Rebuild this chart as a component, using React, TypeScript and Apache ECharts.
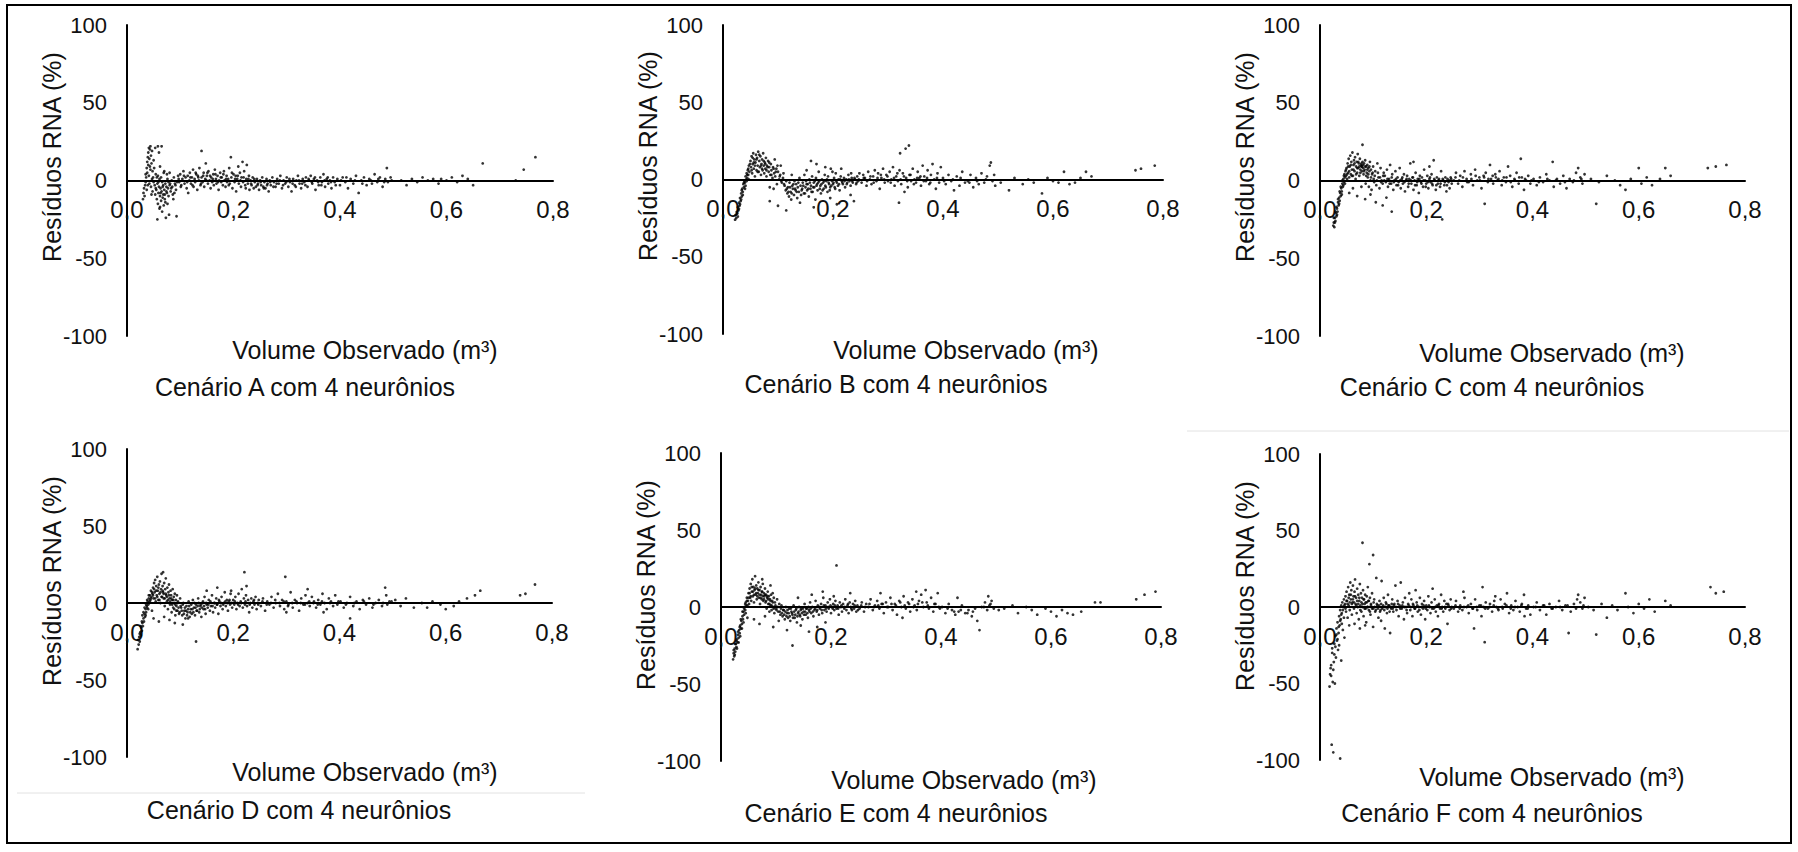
import React, { useEffect, useRef } from "react";
import * as echarts from "echarts";

type P = [number, number];

// Volume observado (m³), resíduo (%)
const cenarioA: P[] = [
  [0.030,-12],[0.031,-8],[0.032,-5],[0.033,-10],[0.034,-3],[0.035,-1],[0.035,4],[0.036,2],[0.037,8],[0.037,-6],[0.038,12],[0.038,5],[0.039,15],[0.040,18],[0.040,10],[0.041,21],[0.041,3],[0.042,-2],[0.042,14],[0.043,20],[0.044,7],[0.044,22],[0.045,16],[0.045,-4],[0.046,11],[0.047,1],[0.047,19],[0.048,-7],[0.048,6],[0.049,2],[0.050,-1],[0.050,13],
  [0.052,-3],[0.053,-9],[0.054,4],[0.055,-6],[0.056,-12],[0.057,-2],[0.058,-15],[0.058,3],[0.059,-8],[0.060,-4],[0.061,-18],[0.061,1],[0.062,-10],[0.063,-5],[0.064,-13],[0.064,2],[0.065,-7],[0.066,-20],[0.066,-1],[0.067,-11],[0.068,-3],[0.069,-16],[0.069,5],[0.070,-6],[0.071,-9],[0.072,-2],[0.072,-14],[0.073,-24],[0.074,-4],[0.075,-8],[0.076,1],[0.077,-5],[0.078,-10],[0.079,-22],[0.080,-3],[0.082,-7],[0.084,0],[0.085,-4],[0.087,-12],[0.088,2],[0.090,-2],[0.092,-6],[0.093,-23],
  [0.053,21],[0.058,22],[0.060,18],[0.065,22],[0.062,9],[0.070,6],[0.075,4],[0.080,5],[0.057,-25],
  [0.096,3],[0.098,-1],[0.100,4],[0.102,-3],[0.104,1],[0.106,6],[0.108,-2],[0.110,2],[0.112,-5],[0.114,3],[0.115,-8],[0.117,0],[0.118,5],[0.120,-2],[0.122,2],[0.124,7],[0.125,-4],[0.127,1],[0.128,-1],[0.130,4],[0.132,-6],[0.133,3],[0.135,0],[0.136,8],[0.138,-3],[0.140,19],[0.140,2],[0.142,-1],[0.144,5],[0.145,-4],[0.147,1],[0.148,11],[0.150,3],[0.152,-2],[0.153,6],[0.155,0],[0.157,-5],[0.158,2],[0.160,-1],[0.162,4],[0.163,-3],[0.165,7],[0.167,1],[0.168,-2],[0.170,3],[0.172,-6],[0.173,0],[0.175,5],[0.177,-1],[0.178,2],[0.180,-3],[0.182,6],[0.183,0],[0.185,-4],[0.187,3],[0.188,-1],[0.190,1],[0.192,8],[0.193,-2],[0.195,15],[0.196,2],[0.198,-5],[0.200,4],[0.202,-1],[0.204,3],[0.205,-7],[0.207,1],[0.209,9],[0.210,-2],[0.212,5],[0.214,-4],[0.215,2],[0.217,12],[0.218,-1],[0.220,6],[0.222,-3],[0.224,1],[0.225,10],[0.227,-2],[0.229,3],[0.230,-6],
  [0.232,0],[0.234,-3],[0.236,2],[0.238,-5],[0.240,-1],[0.242,-4],[0.244,1],[0.246,-2],[0.248,-6],[0.250,0],[0.252,-3],[0.254,2],[0.256,-4],[0.258,-1],[0.260,-5],[0.262,1],[0.264,-2],[0.266,-7],[0.268,0],[0.270,-3],[0.273,2],[0.276,-1],[0.279,-4],[0.282,1],[0.285,-2],[0.288,3],[0.291,-5],[0.294,0],[0.297,-2],[0.300,2],[0.303,-4],[0.306,-1],[0.309,-7],[0.312,1],[0.315,-3],[0.318,0],[0.321,3],[0.324,-2],[0.327,-5],[0.330,1],[0.333,-1],[0.336,2],[0.339,-4],[0.342,0],[0.345,3],[0.348,-2],[0.351,1],[0.354,-6],[0.357,0],[0.360,-3],[0.363,2],[0.366,-1],[0.369,4],[0.372,-4],[0.375,1],[0.378,-2],[0.381,0],[0.384,-5],[0.387,2],[0.390,-1],
  [0.395,1],[0.400,-3],[0.405,2],[0.410,-1],[0.415,-5],[0.420,1],[0.425,-2],[0.430,3],[0.435,-8],[0.440,0],[0.445,2],[0.450,-3],[0.455,1],[0.460,-2],[0.465,4],[0.470,-1],[0.475,2],[0.480,-4],[0.485,1],[0.488,8],[0.490,-1],[0.495,2],
  [0.515,0],[0.525,-3],[0.535,1],[0.545,-1],[0.555,2],[0.565,0],[0.575,1],[0.585,-2],[0.590,1],[0.600,0],[0.610,2],[0.620,-1],[0.630,3],[0.640,1],[0.650,-3],
  [0.668,11],[0.730,0],[0.745,7],[0.767,15],
];
const cenarioAExtra: P[] = [
  [0.043,9],[0.046,-9],[0.039,-3],[0.051,8],[0.054,-5],[0.056,2],[0.059,-1],[0.063,-8],[0.067,-4],[0.071,-12],[0.074,-7],[0.078,-1],[0.083,-5],[0.086,-9],[0.091,-3],[0.097,1],[0.101,-4],[0.107,3],[0.113,-1],[0.119,2],[0.123,-3],[0.129,5],[0.134,2],[0.139,-2],[0.143,3],[0.149,0],[0.151,5],[0.156,3],[0.161,1],[0.166,4],[0.171,-1],[0.176,2],[0.181,4],[0.186,1],[0.191,-3],[0.197,5],[0.203,1],[0.208,3],[0.213,0],[0.219,2],[0.223,-5],[0.228,1],[0.233,-2],[0.239,1],[0.245,-3],[0.251,-1],[0.257,-5],[0.263,-3],[0.269,-1],[0.275,-4],[0.281,-2],[0.287,0],[0.293,-3],[0.299,-1],[0.305,1],[0.311,-2],[0.317,-4],[0.323,0],[0.329,-2],[0.335,-3],[0.341,1],[0.347,-1],[0.353,2],[0.359,-1],[0.365,-3],[0.371,0],[0.377,2],[0.383,-1],[0.392,-3],[0.402,0],[0.412,2],[0.428,0],[0.442,-2],[0.458,0],[0.472,1],[0.483,-1],[0.497,0],[0.062,-17],[0.068,-9],[0.076,-15],[0.081,-2],[0.089,-8],[0.094,-1],
];

const cenarioB: P[] = [
  [0.022,-26],[0.023,-23],[0.024,-25],[0.025,-21],[0.026,-22],[0.027,-18],[0.028,-20],[0.029,-15],[0.030,-17],[0.031,-12],[0.032,-14],[0.033,-9],[0.034,-11],[0.035,-6],[0.036,-8],[0.037,-3],[0.038,-5],[0.039,-1],[0.040,-2],[0.041,2],[0.042,0],[0.043,4],[0.044,1],[0.045,6],[0.046,3],[0.047,9],[0.048,5],
  [0.050,12],[0.051,8],[0.052,15],[0.053,4],[0.054,10],[0.055,17],[0.056,7],[0.057,13],[0.058,2],[0.059,11],[0.060,16],[0.061,6],[0.062,14],[0.063,9],[0.064,18],[0.065,5],[0.066,12],[0.067,8],[0.068,15],[0.069,3],[0.070,10],[0.071,13],[0.072,6],[0.073,17],[0.074,9],[0.075,4],[0.076,11],[0.077,7],[0.078,14],[0.079,2],[0.080,9],[0.082,12],[0.083,5],[0.084,8],[0.085,-5],[0.086,3],[0.087,10],[0.088,6],[0.090,1],[0.091,8],[0.092,-6],[0.093,4],[0.094,13],[0.095,2],[0.097,7],[0.098,-3],[0.100,5],[0.102,0],[0.104,3],[0.105,9],[0.107,-2],[0.109,1],[0.110,4],
  [0.112,-4],[0.114,-7],[0.115,-1],[0.117,-9],[0.118,-5],[0.120,-11],[0.121,-2],[0.123,-8],[0.124,-13],[0.126,-4],[0.127,-6],[0.129,-10],[0.130,-1],[0.132,-7],[0.133,-3],[0.135,-12],[0.136,-5],[0.138,-8],[0.139,1],[0.141,-4],[0.142,-10],[0.144,-6],[0.145,-2],[0.147,-9],[0.148,3],[0.150,-5],[0.151,-1],[0.153,-7],[0.154,-3],[0.156,-11],[0.157,0],[0.159,-6],[0.160,-4],[0.162,2],[0.163,-8],[0.165,-2],[0.166,-5],[0.168,-13],[0.169,1],[0.171,-3],[0.172,-7],[0.174,5],[0.175,-1],[0.177,-4],[0.178,-9],[0.180,0],[0.182,-2],[0.183,-6],[0.185,3],[0.186,-4],[0.188,-1],[0.190,-8],[0.191,2],[0.193,-3],[0.195,-5],[0.196,7],[0.198,-1],[0.200,-3],[0.202,1],[0.204,-6],[0.205,4],[0.207,-2],[0.209,-4],[0.210,0],[0.212,-7],[0.214,2],[0.216,-1],[0.218,-3],[0.220,1],[0.222,-5],[0.224,0],[0.226,-2],[0.228,3],[0.230,-1],[0.232,-4],[0.234,1],[0.236,-2],[0.238,-14],[0.240,0],[0.242,-3],[0.244,2],[0.246,-1],[0.248,4],
  [0.085,-14],[0.100,-17],[0.115,-20],[0.140,-15],[0.165,-18],[0.195,-12],[0.207,-16],[0.232,-10],
  [0.125,3],[0.152,6],[0.170,10],[0.186,8],[0.199,5],[0.215,7],[0.233,4],[0.160,12],
  [0.252,-2],[0.255,3],[0.258,1],[0.261,-4],[0.264,5],[0.267,0],[0.270,-3],[0.273,2],[0.276,6],[0.279,-1],[0.282,4],[0.285,-6],[0.288,1],[0.291,7],[0.294,-2],[0.297,3],[0.300,-1],[0.303,5],[0.306,0],[0.309,8],[0.312,-4],[0.315,2],[0.318,-1],[0.321,6],[0.322,17],[0.324,-3],[0.327,4],[0.330,-8],[0.332,20],[0.333,1],[0.336,-5],[0.338,22],[0.339,3],[0.342,-1],[0.345,7],[0.348,0],[0.351,-2],[0.354,5],[0.357,1],[0.360,-4],[0.363,9],[0.366,2],[0.369,-1],[0.372,6],[0.375,-3],[0.378,3],[0.381,10],[0.384,0],[0.387,-6],[0.390,4],[0.393,-2],[0.396,8],[0.320,-15],
  [0.400,1],[0.405,-3],[0.410,3],[0.415,-1],[0.420,-7],[0.425,2],[0.430,-4],[0.435,5],[0.440,-2],[0.445,-1],[0.450,3],[0.455,-5],[0.460,1],[0.465,-3],[0.470,4],[0.475,-2],[0.480,2],[0.485,9],[0.487,11],[0.490,-1],[0.493,3],[0.495,-4],
  [0.505,-2],[0.520,-7],[0.530,1],[0.545,-3],[0.555,0],[0.565,-2],[0.580,-9],[0.590,1],[0.600,-1],[0.610,-2],[0.620,5],[0.630,-3],[0.640,-2],[0.650,1],[0.660,5],[0.670,2],
  [0.750,6],[0.760,7],[0.785,9],
];
const cenarioBExtra: P[] = [
  [0.027,-24],[0.029,-19],[0.031,-16],[0.033,-13],[0.034,-7],[0.036,-10],[0.038,-2],[0.040,-6],[0.041,-4],[0.043,-1],[0.044,3],[0.046,7],[0.047,0],[0.049,10],[0.052,6],[0.054,14],[0.056,11],[0.058,9],[0.061,13],[0.063,5],[0.066,16],[0.069,9],[0.071,7],[0.074,12],[0.077,10],[0.079,6],[0.081,8],[0.084,11],[0.088,3],[0.092,7],[0.096,5],[0.099,9],[0.103,2],[0.106,-1],[0.111,-3],[0.116,-6],[0.119,-8],[0.122,-5],[0.125,-9],[0.128,-3],[0.131,-6],[0.134,-8],[0.137,-2],[0.143,-7],[0.146,-4],[0.149,-9],[0.152,-3],[0.155,-6],[0.158,-2],[0.161,-8],[0.164,-5],[0.167,-1],[0.170,-4],[0.173,-2],[0.176,-6],[0.179,-3],[0.181,-7],[0.184,-1],[0.187,-5],[0.189,0],[0.192,-2],[0.194,-7],[0.197,-4],[0.201,-2],[0.203,-5],[0.206,-1],[0.211,-3],[0.213,0],[0.217,-2],[0.221,-1],[0.225,-3],[0.229,0],[0.235,-1],[0.239,1],[0.243,-2],[0.247,0],[0.256,1],[0.262,-1],[0.268,2],[0.274,-2],[0.281,1],[0.287,3],[0.293,0],[0.299,2],[0.305,-2],[0.311,1],[0.317,4],[0.323,0],[0.329,2],[0.335,-1],[0.341,3],[0.347,-3],[0.353,1],[0.359,2],[0.365,-1],[0.371,1],[0.377,-2],[0.389,1],[0.402,-1],[0.418,0],[0.432,1],[0.448,-2],[0.462,-1],[0.478,0],
];

const cenarioC: P[] = [
  [0.025,-29],[0.026,-27],[0.027,-30],[0.028,-24],[0.029,-26],[0.030,-21],[0.031,-23],[0.032,-18],[0.033,-20],[0.034,-14],[0.035,-16],[0.036,-11],[0.037,-13],[0.038,-8],[0.039,-10],[0.040,-5],[0.041,-7],[0.042,-2],[0.043,-4],[0.044,1],[0.045,-1],[0.046,4],[0.047,2],[0.048,6],[0.049,3],
  [0.050,8],[0.051,1],[0.052,11],[0.053,5],[0.054,14],[0.055,2],[0.056,9],[0.057,16],[0.058,4],[0.059,12],[0.060,7],[0.061,18],[0.062,3],[0.063,10],[0.064,13],[0.065,6],[0.066,15],[0.067,1],[0.068,9],[0.069,12],[0.070,5],[0.071,17],[0.072,8],[0.073,11],[0.074,3],[0.075,14],[0.076,7],[0.077,10],[0.078,9],[0.079,6],[0.080,23],[0.080,12],[0.081,8],[0.082,4],[0.083,11],[0.084,7],[0.085,13],[0.086,-2],[0.087,9],[0.088,5],[0.089,10],[0.090,2],[0.091,8],[0.092,-4],[0.093,6],[0.094,12],[0.095,0],[0.096,7],[0.097,-6],[0.098,4],[0.100,9],[0.102,-1],[0.104,6],[0.106,-3],[0.108,11],[0.110,2],[0.112,-5],[0.114,8],[0.116,0],[0.118,-2],[0.120,5],
  [0.055,-8],[0.062,-5],[0.070,-10],[0.078,-4],[0.085,-12],[0.095,-9],[0.105,-14],[0.118,-16],[0.125,-11],[0.135,-20],
  [0.122,3],[0.124,-1],[0.126,7],[0.128,-4],[0.130,1],[0.132,10],[0.134,-2],[0.136,4],[0.138,-6],[0.140,0],[0.142,6],[0.144,-3],[0.146,2],[0.148,-1],[0.150,8],[0.152,-5],[0.154,1],[0.156,-2],[0.158,4],[0.160,-7],[0.162,0],[0.164,3],[0.166,-4],[0.168,1],[0.170,11],[0.172,-2],[0.174,2],[0.176,-6],[0.178,0],[0.180,5],[0.182,-3],[0.184,1],[0.186,-8],[0.188,3],[0.190,-1],[0.192,2],[0.194,-4],[0.196,7],[0.198,0],[0.200,-2],[0.202,3],[0.204,-5],[0.206,1],[0.208,-1],[0.210,4],[0.212,-3],[0.214,13],[0.216,0],[0.218,-6],[0.220,2],[0.222,-2],[0.224,1],[0.226,-4],[0.228,6],[0.230,-25],[0.232,0],[0.234,-3],[0.236,2],[0.238,-7],[0.240,1],[0.242,-1],[0.244,-5],[0.246,2],[0.248,-2],[0.176,12],[0.206,9],
  [0.252,0],[0.256,5],[0.260,-2],[0.264,3],[0.268,-4],[0.272,6],[0.276,1],[0.280,-1],[0.284,4],[0.288,-3],[0.292,7],[0.296,0],[0.300,2],[0.304,-5],[0.308,3],[0.310,-15],[0.312,5],[0.316,-1],[0.320,10],[0.322,1],[0.326,-2],[0.330,4],[0.334,0],[0.338,6],[0.342,-3],[0.346,2],[0.350,-1],[0.354,9],[0.358,3],[0.362,-4],[0.366,1],[0.370,5],[0.374,-2],[0.378,14],[0.380,2],[0.384,-6],[0.388,0],[0.392,3],[0.396,-2],
  [0.402,1],[0.408,-3],[0.414,2],[0.420,-1],[0.426,4],[0.432,0],[0.438,12],[0.440,-4],[0.446,1],[0.452,-2],[0.458,3],[0.464,-5],[0.470,1],[0.476,-1],[0.482,5],[0.486,8],[0.490,2],[0.494,-2],[0.498,4],[0.520,-15],
  [0.510,1],[0.525,-1],[0.540,3],[0.555,0],[0.565,-3],[0.575,-6],[0.585,1],[0.600,8],[0.605,-2],[0.615,2],[0.625,-3],[0.640,1],[0.650,8],[0.660,3],
  [0.730,8],[0.745,9],[0.765,10],
];
const cenarioCExtra: P[] = [
  [0.026,-24],[0.028,-27],[0.029,-20],[0.031,-17],[0.032,-22],[0.034,-12],[0.036,-15],[0.037,-7],[0.039,-4],[0.041,-9],[0.042,0],[0.044,-3],[0.045,3],[0.047,-2],[0.049,7],[0.051,4],[0.053,9],[0.055,6],[0.058,10],[0.060,3],[0.063,7],[0.065,11],[0.068,4],[0.070,8],[0.072,12],[0.074,9],[0.076,5],[0.078,11],[0.079,9],[0.081,10],[0.083,6],[0.085,9],[0.087,3],[0.089,7],[0.091,4],[0.093,9],[0.096,2],[0.099,5],[0.101,1],[0.103,3],[0.107,0],[0.109,5],[0.113,2],[0.115,-1],[0.119,3],[0.121,0],[0.127,1],[0.131,-2],[0.135,2],[0.139,-1],[0.143,1],[0.147,-3],[0.151,0],[0.155,2],[0.159,-1],[0.163,1],[0.167,-2],[0.171,0],[0.175,2],[0.179,-3],[0.183,-1],[0.187,1],[0.191,-2],[0.195,0],[0.199,-4],[0.203,-1],[0.207,2],[0.211,-2],[0.215,1],[0.219,-3],[0.223,0],[0.227,-2],[0.231,1],[0.235,-1],[0.239,-3],[0.243,0],[0.247,1],[0.255,2],[0.262,0],[0.269,2],[0.277,-1],[0.285,1],[0.293,3],[0.301,0],[0.309,2],[0.317,1],[0.325,3],[0.331,2],[0.336,1],[0.343,0],[0.351,2],[0.359,-1],[0.367,0],[0.375,2],[0.386,1],[0.398,0],[0.412,-1],[0.428,1],[0.444,0],[0.461,-1],[0.478,0],[0.492,1],
];

const cenarioD: P[] = [
  [0.020,-30],[0.022,-27],[0.023,-22],[0.024,-25],[0.025,-19],[0.026,-21],[0.027,-16],[0.028,-18],[0.029,-13],[0.030,-15],[0.031,-10],[0.032,-12],[0.033,-7],[0.034,-9],[0.035,-4],[0.036,-6],[0.037,-2],[0.038,-3],[0.039,1],[0.040,-1],[0.041,3],[0.042,0],[0.043,5],[0.044,2],[0.045,8],[0.046,4],[0.047,-5],[0.048,6],
  [0.049,10],[0.050,3],[0.051,13],[0.052,7],[0.053,15],[0.054,1],[0.055,11],[0.056,5],[0.057,17],[0.058,8],[0.059,2],[0.060,12],[0.061,6],[0.062,14],[0.063,0],[0.064,9],[0.065,19],[0.066,4],[0.067,11],[0.068,20],[0.068,7],[0.069,3],[0.070,13],[0.071,-2],[0.072,9],[0.073,16],[0.074,5],[0.075,1],[0.076,10],[0.077,-4],[0.078,7],[0.079,12],[0.080,3],[0.081,-1],[0.082,8],[0.083,5],[0.084,-6],[0.085,2],[0.086,9],[0.087,-3],[0.088,4],[0.089,0],[0.090,6],[0.091,-8],[0.092,2],[0.093,-2],[0.094,5],[0.095,-5],[0.096,1],[0.098,-7],[0.100,3],
  [0.050,-10],[0.060,-12],[0.070,-9],[0.080,-11],[0.090,-13],[0.105,-14],[0.130,-25],[0.115,-10],
  [0.102,-3],[0.104,-8],[0.106,0],[0.108,-5],[0.110,-10],[0.112,-2],[0.114,-6],[0.116,1],[0.118,-9],[0.120,-4],[0.122,-7],[0.124,2],[0.126,-3],[0.128,-8],[0.130,-1],[0.132,-5],[0.134,3],[0.136,-6],[0.138,-2],[0.140,-9],[0.142,0],[0.144,-4],[0.146,4],[0.148,-7],[0.150,-1],[0.152,-3],[0.154,2],[0.156,-5],[0.158,-2],[0.160,5],[0.162,-6],[0.164,0],[0.166,-3],[0.168,3],[0.170,-1],[0.172,-7],[0.174,1],[0.176,-2],[0.178,4],[0.180,-4],[0.182,0],[0.184,7],[0.186,-2],[0.188,2],[0.190,-5],[0.192,1],[0.194,-1],[0.196,8],[0.198,-3],[0.200,2],[0.202,-1],[0.204,4],[0.206,-4],[0.208,0],[0.210,6],[0.212,-2],[0.214,1],[0.216,9],[0.218,-3],[0.220,3],[0.221,20],[0.222,-1],[0.224,5],[0.226,-2],[0.228,2],[0.230,-6],[0.232,0],[0.234,3],[0.236,-3],[0.238,1],[0.240,-1],[0.242,4],[0.244,-4],[0.246,0],[0.248,2],
  [0.150,8],[0.170,10],[0.195,6],[0.225,11],
  [0.252,-2],[0.256,3],[0.260,-5],[0.264,1],[0.268,-1],[0.272,4],[0.276,-3],[0.280,0],[0.284,6],[0.288,-2],[0.292,2],[0.296,-4],[0.298,17],[0.300,1],[0.304,-1],[0.308,7],[0.312,-3],[0.316,2],[0.320,0],[0.324,-5],[0.328,3],[0.332,-1],[0.336,5],[0.340,0],[0.344,-2],[0.348,4],[0.352,1],[0.356,-3],[0.360,2],[0.364,-1],[0.368,6],[0.372,0],[0.376,-4],[0.380,3],[0.384,1],[0.388,-2],[0.392,5],[0.396,-1],[0.300,-6],[0.340,9],[0.370,-6],
  [0.402,1],[0.408,-3],[0.414,0],[0.420,4],[0.426,-2],[0.432,1],[0.438,-4],[0.444,2],[0.450,-1],[0.456,3],[0.462,-3],[0.468,0],[0.474,2],[0.480,-2],[0.486,10],[0.488,5],[0.490,-1],[0.494,1],[0.420,-10],
  [0.505,2],[0.515,-2],[0.525,3],[0.540,-3],[0.555,0],[0.565,-3],[0.575,1],[0.590,-1],[0.600,-4],[0.615,-2],[0.625,1],[0.640,3],[0.655,5],[0.665,8],
  [0.740,5],[0.750,6],[0.768,12],
];
const cenarioDExtra: P[] = [
  [0.021,-24],[0.024,-20],[0.026,-15],[0.028,-12],[0.029,-8],[0.031,-6],[0.033,-3],[0.035,-8],[0.036,-1],[0.038,2],[0.040,-4],[0.041,5],[0.043,1],[0.045,3],[0.047,7],[0.049,5],[0.051,9],[0.053,3],[0.055,8],[0.057,4],[0.059,10],[0.061,2],[0.063,7],[0.065,4],[0.067,8],[0.069,6],[0.071,3],[0.073,6],[0.075,4],[0.077,2],[0.079,5],[0.081,1],[0.083,3],[0.085,-1],[0.087,2],[0.089,-4],[0.091,-1],[0.093,-5],[0.095,0],[0.097,-3],[0.099,-6],[0.101,-2],[0.103,-5],[0.105,-1],[0.107,-7],[0.109,-3],[0.111,-5],[0.113,-8],[0.115,-4],[0.117,-2],[0.119,-6],[0.121,-1],[0.123,-4],[0.125,-6],[0.127,0],[0.129,-3],[0.131,-5],[0.133,-2],[0.135,0],[0.137,-4],[0.139,-1],[0.141,-3],[0.143,1],[0.145,-2],[0.147,-4],[0.149,0],[0.153,-1],[0.157,1],[0.161,-2],[0.165,0],[0.169,-1],[0.173,2],[0.177,0],[0.181,-1],[0.185,1],[0.189,0],[0.193,2],[0.197,0],[0.203,1],[0.209,-1],[0.215,0],[0.223,1],[0.231,-1],[0.239,2],[0.247,-1],[0.255,1],[0.263,-1],[0.271,0],[0.279,2],[0.287,0],[0.295,1],[0.303,-2],[0.311,0],[0.319,1],[0.327,0],[0.335,-1],[0.343,1],[0.351,0],[0.359,-1],[0.367,1],[0.382,0],[0.398,1],[0.412,-1],[0.428,0],[0.446,1],[0.464,-1],[0.482,0],[0.498,1],
];

const cenarioE: P[] = [
  [0.022,-34],[0.023,-30],[0.024,-32],[0.025,-27],[0.026,-29],[0.027,-24],[0.028,-26],[0.029,-21],[0.030,-23],[0.031,-18],[0.032,-20],[0.033,-15],[0.034,-17],[0.035,-12],[0.036,-14],[0.037,-9],[0.038,-11],[0.039,-6],[0.040,-8],[0.041,-3],[0.042,-5],[0.043,0],[0.044,-2],[0.045,3],[0.046,1],[0.047,6],[0.048,-7],[0.049,4],
  [0.050,9],[0.051,2],[0.052,12],[0.053,6],[0.054,15],[0.055,4],[0.056,10],[0.057,18],[0.058,7],[0.059,13],[0.060,3],[0.061,11],[0.062,20],[0.063,8],[0.064,14],[0.065,5],[0.066,12],[0.067,9],[0.068,16],[0.069,6],[0.070,11],[0.071,2],[0.072,13],[0.073,8],[0.074,5],[0.075,10],[0.076,15],[0.077,4],[0.078,9],[0.079,7],[0.080,12],[0.081,3],[0.082,8],[0.083,-1],[0.084,6],[0.085,10],[0.086,2],[0.087,7],[0.088,-3],[0.089,5],[0.090,1],[0.091,8],[0.092,-2],[0.093,4],[0.094,9],[0.095,0],[0.096,6],[0.097,-4],[0.098,3],[0.100,-1],[0.102,5],[0.104,-3],[0.106,2],[0.108,-5],[0.110,1],[0.090,14],[0.075,18],
  [0.060,-8],[0.070,-11],[0.080,-6],[0.095,-13],[0.105,-9],[0.120,-15],[0.130,-25],[0.145,-12],[0.160,-16],[0.175,-13],[0.190,-10],
  [0.112,-6],[0.114,-2],[0.116,-8],[0.118,0],[0.120,-4],[0.122,-7],[0.124,-1],[0.126,-9],[0.128,-3],[0.130,-5],[0.132,1],[0.134,-7],[0.136,-2],[0.138,-10],[0.140,-4],[0.142,0],[0.144,-6],[0.146,-1],[0.148,-8],[0.150,-3],[0.152,2],[0.154,-5],[0.156,-1],[0.158,-7],[0.160,-2],[0.162,3],[0.164,-4],[0.166,0],[0.168,-6],[0.170,-2],[0.172,4],[0.174,-3],[0.176,1],[0.178,-5],[0.180,-1],[0.182,2],[0.184,-4],[0.186,6],[0.188,-2],[0.190,1],[0.192,-3],[0.194,3],[0.196,-1],[0.198,5],[0.200,-4],[0.202,0],[0.204,2],[0.206,-2],[0.208,4],[0.210,27],[0.210,-1],[0.212,1],[0.214,-5],[0.216,3],[0.218,0],[0.220,-3],[0.222,2],[0.224,-1],[0.226,5],[0.228,-2],[0.230,1],[0.232,-4],[0.234,3],[0.236,0],[0.238,-2],[0.240,2],[0.242,-1],[0.244,4],[0.246,-3],[0.248,1],
  [0.140,6],[0.165,8],[0.185,10],[0.205,7],[0.235,9],
  [0.252,-1],[0.256,3],[0.260,-3],[0.264,2],[0.268,0],[0.272,5],[0.276,-2],[0.280,1],[0.284,4],[0.288,-1],[0.292,2],[0.296,-4],[0.300,3],[0.304,0],[0.308,6],[0.312,-2],[0.316,2],[0.320,-5],[0.324,4],[0.328,0],[0.332,7],[0.336,-1],[0.340,3],[0.344,-3],[0.348,5],[0.352,1],[0.356,-2],[0.360,4],[0.364,8],[0.368,0],[0.372,11],[0.374,3],[0.378,-1],[0.382,6],[0.386,-3],[0.390,2],[0.394,9],[0.398,-1],[0.290,9],[0.330,-7],[0.355,10],
  [0.402,0],[0.408,-4],[0.414,2],[0.420,-2],[0.426,-5],[0.432,-3],[0.438,1],[0.444,-4],[0.450,-2],[0.456,-6],[0.462,-1],[0.466,-9],[0.470,-15],[0.474,0],[0.480,3],[0.484,-2],[0.486,7],[0.488,1],[0.492,4],[0.496,-1],[0.430,6],
  [0.505,-2],[0.515,-1],[0.530,1],[0.540,-4],[0.555,0],[0.565,-2],[0.575,-5],[0.590,-1],[0.600,-3],[0.610,-6],[0.620,-2],[0.630,-4],[0.640,-5],[0.655,-3],
  [0.680,3],[0.690,3],[0.755,5],[0.770,8],[0.790,10],
];
const cenarioEExtra: P[] = [
  [0.023,-28],[0.025,-31],[0.026,-24],[0.028,-22],[0.029,-27],[0.031,-16],[0.032,-23],[0.034,-13],[0.035,-19],[0.036,-8],[0.038,-14],[0.039,-3],[0.041,-10],[0.042,-1],[0.044,2],[0.045,-4],[0.047,4],[0.048,1],[0.050,6],[0.052,9],[0.054,7],[0.056,13],[0.058,10],[0.060,8],[0.062,12],[0.064,9],[0.066,7],[0.068,11],[0.070,8],[0.072,6],[0.074,10],[0.076,7],[0.078,5],[0.080,8],[0.082,4],[0.084,7],[0.086,5],[0.088,2],[0.090,4],[0.092,1],[0.094,3],[0.096,-1],[0.099,1],[0.101,-2],[0.103,0],[0.107,-3],[0.109,-1],[0.111,-4],[0.113,-2],[0.115,-5],[0.117,-3],[0.119,-6],[0.121,-2],[0.123,-4],[0.125,-6],[0.127,-1],[0.129,-4],[0.131,-7],[0.133,-3],[0.135,-5],[0.137,-1],[0.139,-6],[0.141,-3],[0.143,-5],[0.145,-2],[0.147,-4],[0.149,-1],[0.151,-5],[0.153,-3],[0.155,-1],[0.157,-4],[0.159,0],[0.161,-3],[0.163,-1],[0.167,-3],[0.171,-1],[0.175,-2],[0.179,0],[0.183,-2],[0.187,1],[0.191,-1],[0.195,0],[0.199,1],[0.203,-1],[0.207,1],[0.213,-1],[0.219,1],[0.225,0],[0.231,2],[0.237,-1],[0.243,1],[0.249,-2],[0.255,1],[0.262,0],[0.270,2],[0.278,0],[0.286,1],[0.294,2],[0.302,0],[0.310,2],[0.318,1],[0.326,3],[0.334,1],[0.342,2],[0.350,0],[0.358,2],[0.366,3],[0.376,1],[0.388,2],[0.396,0],[0.412,-1],[0.424,-3],[0.436,-2],[0.448,-4],[0.458,-3],[0.478,0],[0.490,2],
];

const cenarioF: P[] = [
  [0.018,-52],[0.020,-40],[0.021,-45],[0.022,-90],[0.023,-30],[0.024,-49],[0.025,-95],[0.026,-36],[0.027,-24],[0.028,-50],[0.029,-19],[0.030,-33],[0.031,-14],[0.032,-22],[0.033,-10],[0.034,-28],[0.035,-17],[0.036,-6],[0.037,-12],[0.038,-99],[0.038,-2],[0.039,-8],[0.040,-35],[0.040,1],[0.041,-4],[0.042,3],[0.043,-15],[0.044,0],[0.045,5],[0.046,-20],[0.047,2],[0.048,7],[0.049,-3],
  [0.050,10],[0.051,4],[0.052,-7],[0.053,13],[0.054,1],[0.055,8],[0.056,-2],[0.057,16],[0.058,5],[0.059,11],[0.060,-5],[0.061,3],[0.062,14],[0.063,7],[0.064,-1],[0.065,10],[0.066,18],[0.067,2],[0.068,6],[0.069,-4],[0.070,12],[0.071,0],[0.072,8],[0.073,-8],[0.074,4],[0.075,15],[0.076,1],[0.077,9],[0.078,-3],[0.079,6],[0.080,42],[0.080,2],[0.081,11],[0.082,-6],[0.083,5],[0.084,-1],[0.085,8],[0.086,3],[0.087,-10],[0.088,7],[0.089,0],[0.090,13],[0.091,4],[0.092,-2],[0.093,28],[0.094,6],[0.095,-5],[0.096,2],[0.098,9],[0.100,34],[0.100,-1],[0.102,5],[0.104,-3],[0.106,19],[0.108,1],[0.110,-7],[0.112,4],[0.114,-2],[0.116,17],[0.118,0],[0.120,6],[0.122,-14],[0.124,3],[0.126,-4],[0.128,8],[0.130,1],[0.132,-17],[0.134,-1],[0.136,5],[0.138,-3],[0.140,2],
  [0.055,-12],[0.065,-11],[0.075,-14],[0.085,-12],[0.100,-13],[0.115,-9],
  [0.142,14],[0.144,-2],[0.146,4],[0.148,-6],[0.150,1],[0.152,16],[0.154,-1],[0.156,3],[0.158,-8],[0.160,6],[0.162,0],[0.164,-4],[0.166,2],[0.168,9],[0.170,-2],[0.172,5],[0.174,-6],[0.176,1],[0.178,-1],[0.180,11],[0.182,3],[0.184,-3],[0.186,0],[0.188,6],[0.190,-5],[0.192,2],[0.194,-1],[0.196,4],[0.198,-8],[0.200,1],[0.202,-2],[0.204,7],[0.206,0],[0.208,-4],[0.210,3],[0.212,12],[0.214,-1],[0.216,5],[0.218,-3],[0.220,1],[0.222,-6],[0.224,2],[0.226,-1],[0.228,8],[0.230,0],[0.232,-3],[0.234,4],[0.236,-1],[0.238,2],[0.240,-11],[0.242,1],[0.244,-2],[0.246,5],[0.248,0],
  [0.252,-1],[0.256,4],[0.260,-3],[0.264,1],[0.268,-2],[0.272,6],[0.276,0],[0.280,-4],[0.284,2],[0.288,-1],[0.290,-14],[0.292,5],[0.296,-2],[0.300,1],[0.304,-6],[0.306,13],[0.308,0],[0.310,-23],[0.312,3],[0.316,-1],[0.320,2],[0.324,-3],[0.328,4],[0.332,0],[0.336,-2],[0.340,5],[0.344,-1],[0.348,2],[0.352,9],[0.356,-4],[0.360,1],[0.364,-2],[0.368,4],[0.372,0],[0.376,-3],[0.380,2],[0.384,8],[0.388,-1],[0.392,1],[0.396,-5],[0.270,10],[0.330,7],[0.385,-6],
  [0.402,0],[0.408,3],[0.414,-2],[0.420,1],[0.426,-5],[0.432,2],[0.438,-1],[0.444,0],[0.450,4],[0.456,-2],[0.462,1],[0.468,-17],[0.472,-3],[0.478,2],[0.484,5],[0.486,8],[0.490,3],[0.494,-1],[0.498,6],
  [0.505,0],[0.515,-2],[0.520,-18],[0.530,2],[0.540,-7],[0.550,1],[0.560,-2],[0.575,9],[0.580,0],[0.590,-4],[0.600,2],[0.610,-1],[0.620,5],[0.630,-3],[0.650,4],[0.660,1],
  [0.735,13],[0.745,9],[0.760,10],
];
const cenarioFExtra: P[] = [
  [0.019,-44],[0.021,-38],[0.023,-27],[0.025,-41],[0.027,-31],[0.029,-26],[0.031,-18],[0.033,-21],[0.035,-13],[0.036,-25],[0.038,-9],[0.040,-5],[0.041,-11],[0.043,-2],[0.045,-7],[0.046,1],[0.048,-1],[0.050,4],[0.052,2],[0.054,6],[0.056,3],[0.058,8],[0.060,2],[0.062,5],[0.064,3],[0.066,7],[0.068,1],[0.070,4],[0.072,2],[0.074,6],[0.076,-2],[0.078,3],[0.080,0],[0.082,5],[0.084,2],[0.086,-1],[0.088,3],[0.090,0],[0.092,4],[0.094,-3],[0.096,1],[0.098,-1],[0.101,3],[0.103,0],[0.105,-2],[0.107,2],[0.109,-1],[0.111,1],[0.113,-3],[0.115,2],[0.117,-1],[0.119,1],[0.121,-2],[0.123,0],[0.125,2],[0.127,-1],[0.129,1],[0.131,-3],[0.133,0],[0.135,2],[0.137,-1],[0.139,1],[0.143,0],[0.147,2],[0.151,-1],[0.155,1],[0.159,0],[0.163,-2],[0.167,1],[0.171,0],[0.175,2],[0.179,-1],[0.183,1],[0.187,-2],[0.191,0],[0.195,1],[0.199,-1],[0.205,1],[0.211,-1],[0.217,0],[0.223,1],[0.229,-1],[0.235,0],[0.241,2],[0.247,-1],[0.255,1],[0.263,-1],[0.271,0],[0.279,1],[0.287,-1],[0.295,0],[0.303,1],[0.311,-1],[0.319,0],[0.327,1],[0.335,-1],[0.343,0],[0.351,1],[0.359,-1],[0.367,0],[0.379,1],[0.391,-1],[0.406,0],[0.422,1],[0.436,-1],[0.452,0],[0.466,1],[0.482,-1],[0.496,1],
];

const panelData: P[][] = [
  [...cenarioA, ...cenarioAExtra],
  [...cenarioB, ...cenarioBExtra],
  [...cenarioC, ...cenarioCExtra],
  [...cenarioD, ...cenarioDExtra],
  [...cenarioE, ...cenarioEExtra],
  [...cenarioF, ...cenarioFExtra],
];
const panelCaptions = [
  "Cenário A com 4 neurônios",
  "Cenário B com 4 neurônios",
  "Cenário C com 4 neurônios",
  "Cenário D com 4 neurônios",
  "Cenário E com 4 neurônios",
  "Cenário F com 4 neurônios",
];
const yAxisTitle = "Resíduos RNA (%)";
const xAxisTitle = "Volume Observado (m³)";
const xRange = [0, 0.8];
const xStep = 0.2;
const yRange = [-100, 100];
const yStep = 50;

// positions (pixels)
const panels = [
  { left: 127, top: 25, width: 426, height: 311, yt: [52, 157], xt: [365, 350], ct: [305, 387] },
  { left: 723, top: 25, width: 440, height: 309, yt: [648, 156], xt: [966, 350], ct: [896, 384] },
  { left: 1320, top: 25, width: 425, height: 311, yt: [1245, 157], xt: [1552, 353], ct: [1492, 387] },
  { left: 127, top: 449, width: 425, height: 308, yt: [52, 581], xt: [365, 772], ct: [299, 810] },
  { left: 721, top: 453, width: 440, height: 308, yt: [646, 585], xt: [964, 780], ct: [896, 813] },
  { left: 1320, top: 454, width: 425, height: 306, yt: [1245, 586], xt: [1552, 777], ct: [1492, 813] },
];

const FONT = "'Liberation Sans', Arial, sans-serif";

export default function App() {
  const ref = useRef<HTMLDivElement>(null);
  useEffect(() => {
    document.body.style.margin = "0";
    if (!ref.current) return;
    const chart = echarts.init(ref.current, undefined, { renderer: "svg" });
    const fmtX = (v: number) => v.toFixed(1).replace(".", ",");
    const graphic: any[] = [
      { type: "rect", shape: { x: 7, y: 5, width: 1784, height: 838 }, style: { fill: "none", stroke: "#000", lineWidth: 2 }, silent: true },
      { type: "line", shape: { x1: 1187, y1: 431, x2: 1789, y2: 431 }, style: { stroke: "#e2e2e2", lineWidth: 1 }, silent: true },
      { type: "line", shape: { x1: 17, y1: 793, x2: 585, y2: 793 }, style: { stroke: "#e2e2e2", lineWidth: 1 }, silent: true },
    ];
    panels.forEach((p, i) => {
      graphic.push({
        type: "text", x: p.yt[0], y: p.yt[1], rotation: Math.PI / 2, silent: true,
        style: { text: yAxisTitle, font: `25px ${FONT}`, fill: "#111", align: "center", verticalAlign: "middle" },
      });
      graphic.push({
        type: "text", x: p.xt[0], y: p.xt[1], silent: true,
        style: { text: xAxisTitle, font: `25px ${FONT}`, fill: "#111", align: "center", verticalAlign: "middle" },
      });
      graphic.push({
        type: "text", x: p.ct[0], y: p.ct[1], silent: true,
        style: { text: panelCaptions[i], font: `25px ${FONT}`, fill: "#111", align: "center", verticalAlign: "middle" },
      });
    });
    chart.setOption({
      animation: false,
      backgroundColor: "#fff",
      grid: panels.map((p) => ({ left: p.left, top: p.top, width: p.width, height: p.height, containLabel: false })),
      xAxis: panels.map((p, i) => ({
        gridIndex: i, type: "value", min: xRange[0], max: xRange[1], interval: xStep,
        position: "bottom", offset: -p.height / 2,
        axisLine: { show: true, onZero: false, lineStyle: { color: "#000", width: 2 } },
        axisTick: { show: false }, splitLine: { show: false },
        axisLabel: { fontSize: 24, color: "#111", margin: 17, fontFamily: FONT, formatter: fmtX },
      })),
      yAxis: panels.map((_, i) => ({
        gridIndex: i, type: "value", min: yRange[0], max: yRange[1], interval: yStep,
        axisLine: { show: true, onZero: false, lineStyle: { color: "#000", width: 2 } },
        axisTick: { show: false }, splitLine: { show: false },
        axisLabel: { fontSize: 22, color: "#111", margin: 20, fontFamily: FONT },
      })),
      series: panelData.map((d, i) => ({
        type: "scatter", xAxisIndex: i, yAxisIndex: i, data: d,
        symbol: "circle", symbolSize: 2.8, itemStyle: { color: "#000" }, silent: true, z: 1,
      })),
      graphic,
    });
    return () => chart.dispose();
  }, []);
  return <div ref={ref} style={{ position: "absolute", left: 0, top: 0, width: 1798, height: 852 }} />;
}
